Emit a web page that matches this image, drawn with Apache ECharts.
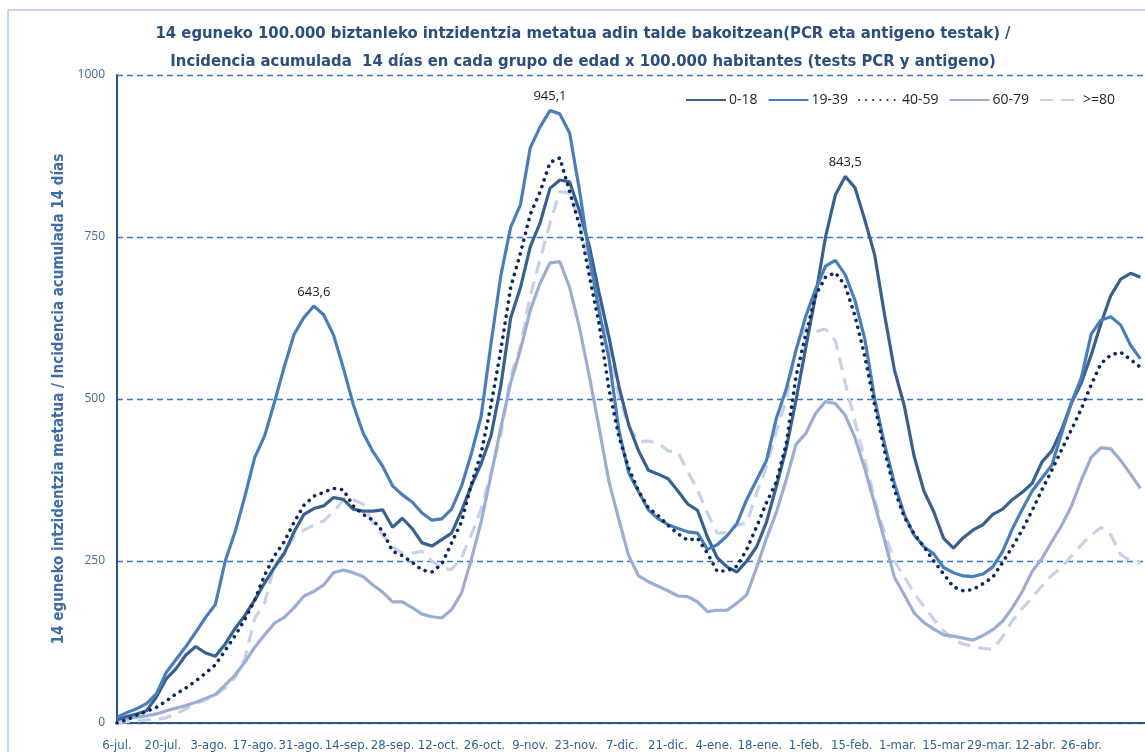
<!DOCTYPE html>
<html>
<head>
<meta charset="utf-8">
<script src="https://cdn.jsdelivr.net/npm/echarts/dist/echarts.min.js"></script>
<style>
html,body{margin:0;padding:0;background:#fff;}
#chart{width:1145px;height:752px;}
</style>
</head>
<body>
<div id="chart"></div>
<script>
// Tick labels every 14 days starting 6-jul.
const tickLabels = ['6-jul.','20-jul.','3-ago.','17-ago.','31-ago.','14-sep.','28-sep.','12-oct.','26-oct.','9-nov.','23-nov.','7-dic.','21-dic.','4-ene.','18-ene.','1-feb.','15-feb.','1-mar.','15-mar','29-mar.','12-abr.','26-abr.'];
const seriesNames = ['0-18','19-39','40-59','60-79','>=80'];
// samples every 3 days from 6-jul (day 0)
const s018 = [5,10,14,19,40,68,84,105,118,108,
  103,122,146,166,190,216,240,262,295,322,
  331,335,348,345,330,327,327,329,302,316,
  300,278,273,283,293,327,366,400,443,520,
  625,672,735,772,825,838,835,790,736,663,
  595,520,460,420,390,384,377,358,338,328,
  287,255,241,233,250,272,310,365,423,498,
  580,660,750,815,843.5,826,776,722,630,545,
  490,412,358,326,285,270,286,298,306,322,
  330,345,356,370,403,420,453,494,525,568,
  617,660,685,694,688];
const s1939 = [9,16,22,30,45,78,98,118,140,163,
  183,250,295,350,410,443,495,550,600,626,
  643.6,630,599,548,492,448,419,396,366,352,
  341,324,313,315,330,365,415,473,585,690,
  765,800,888,920,945.1,940,910,822,720,635,
  562,452,386,357,329,315,306,300,295,293,
  268,275,289,308,345,375,405,470,515,575,
  628,670,705,714,692,652,592,500,430,370,
  322,290,272,261,240,232,227,226,230,241,
  265,300,330,358,378,398,447,495,533,600,
  622,627,614,583,562];
const s4059 = [0,5,12,18,24,34,45,54,65,77,
  90,112,135,160,190,228,258,280,310,336,
  350,356,362,360,335,322,313,296,265,258,
  248,236,233,245,278,310,368,416,490,575,
  672,725,785,820,865,872,820,768,690,615,
  515,442,393,358,332,320,305,292,282,285,
  262,234,235,242,268,303,340,372,430,535,
  600,660,688,695,675,628,565,490,420,360,
  318,292,272,250,230,210,204,206,215,225,
  248,272,298,328,360,390,422,453,485,522,
  555,568,572,561,549];
const s6079 = [5,7,9,11,14,19,23,27,32,38,
  44,59,74,94,117,136,154,163,178,196,
  203,213,232,236,232,226,213,202,187,187,
  178,168,164,162,175,200,252,310,382,455,
  525,576,637,679,710,712,672,610,535,455,
  372,314,258,227,218,211,204,196,195,187,
  172,174,174,185,198,240,285,325,375,430,
  447,478,496,493,475,440,392,338,282,225,
  198,170,155,145,136,134,131,128,135,144,
  157,178,203,234,254,280,305,335,375,410,
  425,423,405,384,362];
const s80 = [0,2,3,5,6,8,14,22,30,36,
  43,54,70,100,162,185,243,264,287,298,
  305,312,326,344,345,338,309,290,272,262,
  262,265,250,238,237,255,290,330,385,445,
  535,580,660,715,772,820,818,772,705,645,
  578,505,457,434,435,432,420,418,388,360,
  324,293,294,305,309,355,395,450,498,578,
  610,604,608,590,525,465,405,345,292,250,
  226,200,180,160,142,128,122,118,115,114,
  133,158,177,193,212,228,240,258,275,290,
  302,290,260,250,247];
const peakLabels = [643.6, 945.1, 843.5];
const yTicks = [0,250,500,750,1000];

const days = s018.map((_, i) => i * 3);
const NARROW = "'Liberation Sans Narrow','DejaVu Sans Condensed','Open Sans',sans-serif";

function peaks(arr) {
  const out = [];
  arr.forEach((v, i) => {
    if (peakLabels.indexOf(v) >= 0) out.push({ coord: [days[i], v], value: String(v).replace('.', ',') });
  });
  return out;
}

const styles = [
  { color: '#38618f', type: 'solid', width: 3.2, data: s018 },
  { color: '#4a7ebb', type: 'solid', width: 3.2, data: s1939 },
  { color: '#0d2a60', type: [0.1, 7], width: 3.6, cap: 'round', data: s4059 },
  { color: '#9aaed3', type: 'solid', width: 3.2, data: s6079 },
  { color: '#c6d2e8', type: [13, 8], width: 3.2, data: s80 }
];

const chart = echarts.init(document.getElementById('chart'), null, { renderer: 'canvas' });
chart.setOption({
  animation: false,
  backgroundColor: '#ffffff',
  title: {
    text: '14 eguneko 100.000 biztanleko intzidentzia metatua adin talde bakoitzean(PCR eta antigeno testak) /\nIncidencia acumulada  14 días en cada grupo de edad x 100.000 habitantes (tests PCR y antigeno)',
    left: 578,
    textAlign: 'center',
    top: 15,
    textStyle: { color: '#2a4f7e', fontSize: 16.5, fontWeight: 'bold', fontFamily: NARROW, lineHeight: 28 }
  },
  graphic: [
    { type: 'line', shape: { x1: 8, y1: 10, x2: 1145, y2: 10 }, style: { stroke: '#c5d7ee', lineWidth: 2 } },
    { type: 'line', shape: { x1: 8, y1: 10, x2: 8, y2: 752 }, style: { stroke: '#c5d7ee', lineWidth: 2 } }
  ],
  legend: {
    left: 680, top: 88,
    itemWidth: 40, itemHeight: 12, itemGap: 10,
    itemStyle: { opacity: 0 },
    textStyle: { color: '#262626', fontSize: 14, fontFamily: "'Open Sans',sans-serif", padding: [0,0,0,-2] },
    data: seriesNames
  },
  grid: { left: 117, right: 0, top: 75, bottom: 29, containLabel: false },
  xAxis: {
    type: 'value', min: 0, max: 313.4, interval: 14,
    axisLine: { show: true, lineStyle: { color: '#2e5486', width: 2 } },
    axisTick: { show: false },
    splitLine: { show: false },
    axisLabel: {
      color: '#35608f', fontSize: 13, fontFamily: NARROW, margin: 16, showMaxLabel: false,
      formatter: v => (v % 14 === 0 && tickLabels[v / 14] !== undefined) ? tickLabels[v / 14] : ''
    }
  },
  yAxis: {
    type: 'value', min: 0, max: 1000, interval: 250,
    name: '14 eguneko intzidentzia metatua / Incidencia acumulada 14 días',
    nameLocation: 'middle', nameGap: 48, nameRotate: 90,
    nameTextStyle: { color: '#3d6ca8', fontSize: 15, fontWeight: 'bold', fontFamily: NARROW },
    axisLine: { show: true, lineStyle: { color: '#2e5486', width: 2 } },
    axisTick: { show: false },
    axisLabel: { color: '#44689a', fontSize: 12, margin: 12, fontFamily: "'Open Sans',sans-serif",
      formatter: v => yTicks.indexOf(v) >= 0 ? String(v) : '' },
    splitLine: { show: true, lineStyle: { color: '#3a74d0', type: [6, 4], width: 1.3, opacity: 1 } }
  },
  series: seriesNames.map((name, k) => ({
    name: name,
    type: 'line',
    showSymbol: false,
    symbol: 'none',
    smooth: false,
    z: [3, 4, 5, 2, 1][k],
    lineStyle: { color: styles[k].color, width: styles[k].width, type: styles[k].type, cap: styles[k].cap || 'butt' },
    itemStyle: { color: styles[k].color },
    markPoint: k <= 1 ? {
      symbol: 'circle', symbolSize: 1, silent: true,
      itemStyle: { color: 'rgba(0,0,0,0)' },
      label: { show: true, position: 'top', distance: 7, color: '#1a1a1a', fontSize: 13,
        fontFamily: "'Open Sans',sans-serif", formatter: p => p.value },
      data: peaks(styles[k].data)
    } : undefined,
    data: days.map((d, i) => [d, styles[k].data[i]])
  }))
});
</script>
</body>
</html>
